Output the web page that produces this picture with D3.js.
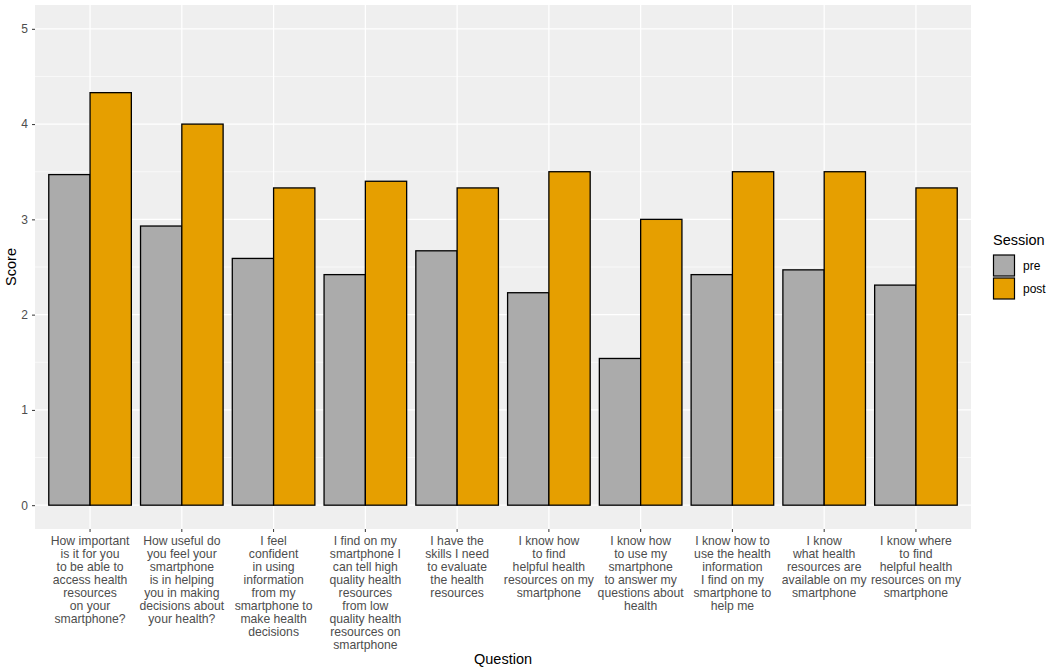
<!DOCTYPE html>
<html><head><meta charset="utf-8">
<script src="https://cdn.jsdelivr.net/npm/d3@7"></script>
<style>body{margin:0;background:#fff;} text{font-family:"Liberation Sans",Arial,sans-serif;}</style>
</head><body><svg id="c" width="1050" height="670"></svg>
<script>
const categories = [
  ["How important","is it for you","to be able to","access health","resources","on your","smartphone?"],
  ["How useful do","you feel your","smartphone","is in helping","you in making","decisions about","your health?"],
  ["I feel","confident","in using","information","from my","smartphone to","make health","decisions"],
  ["I find on my","smartphone I","can tell high","quality health","resources","from low","quality health","resources on","smartphone"],
  ["I have the","skills I need","to evaluate","the health","resources"],
  ["I know how","to find","helpful health","resources on my","smartphone"],
  ["I know how","to use my","smartphone","to answer my","questions about","health"],
  ["I know how to","use the health","information","I find on my","smartphone to","help me"],
  ["I know","what health","resources are","available on my","smartphone"],
  ["I know where","to find","helpful health","resources on my","smartphone"]
];
const sessions = ["pre","post"];
const preValues  = [3.47, 2.93, 2.59, 2.42, 2.67, 2.23, 1.54, 2.42, 2.47, 2.31];
const postValues = [4.33, 4.00, 3.33, 3.40, 3.33, 3.50, 3.00, 3.50, 3.50, 3.33];
const yTicks = [0,1,2,3,4,5];
const colors = {pre:"#ABABAB", post:"#E69F00"};

const svg = d3.select("#c");
const L=35, R=971, T=5, B=529;
const idx = categories.map((d,i)=>i);
const xl = d3.scaleLinear().domain([0.4,10.6]).range([L,R]);
const y = d3.scaleLinear().domain([-0.25,5.25]).range([B,T]);

svg.append("rect").attr("x",L).attr("y",T).attr("width",R-L).attr("height",B-T).attr("fill","#EFEFEF");
const g = svg.append("g");
[0.5,1.5,2.5,3.5,4.5].forEach(v=>{
  g.append("line").attr("x1",L).attr("x2",R).attr("y1",y(v)).attr("y2",y(v)).attr("stroke","#fff").attr("stroke-width",0.6);
});
yTicks.forEach(v=>{
  g.append("line").attr("x1",L).attr("x2",R).attr("y1",y(v)).attr("y2",y(v)).attr("stroke","#fff").attr("stroke-width",1.2);
});
idx.forEach(i=>{
  g.append("line").attr("x1",xl(i+1)).attr("x2",xl(i+1)).attr("y1",T).attr("y2",B).attr("stroke","#fff").attr("stroke-width",1.2);
});

const data = [];
idx.forEach(i=>{
  data.push({i, s:"pre", v:preValues[i]});
  data.push({i, s:"post", v:postValues[i]});
});
const bw = 0.45;
svg.append("g").selectAll("rect").data(data).join("rect")
  .attr("x",d=> d.s==="pre" ? xl(d.i+1-bw) : xl(d.i+1))
  .attr("width", xl(bw)-xl(0))
  .attr("y", d=>y(d.v))
  .attr("height", d=>y(0)-y(d.v))
  .attr("fill", d=>colors[d.s])
  .attr("stroke","#000").attr("stroke-width",1.3);

const ya = svg.append("g").attr("transform",`translate(${L},0)`)
  .call(d3.axisLeft(y).tickValues(yTicks).tickSize(3).tickPadding(4).tickFormat(d3.format("d")));
ya.select(".domain").remove();
ya.selectAll("line").attr("stroke","#333");
ya.selectAll("text").attr("fill","#4D4D4D").style("font-size","12px");

const xa = svg.append("g").attr("transform",`translate(0,${B})`);
idx.forEach(i=>{
  xa.append("line").attr("x1",xl(i+1)).attr("x2",xl(i+1)).attr("y1",0).attr("y2",3).attr("stroke","#333");
  const t = xa.append("text").attr("x",xl(i+1)).attr("y",16).attr("text-anchor","middle")
    .attr("fill","#4D4D4D").style("font-size","12.2px");
  categories[i].forEach((ln,k)=>{
    t.append("tspan").attr("x",xl(i+1)).attr("dy",k===0?0:13).text(ln);
  });
});

svg.append("text").attr("x",(L+R)/2).attr("y",664).attr("text-anchor","middle").style("font-size","14.5px").text("Question");
svg.append("text").attr("transform",`translate(16,${(T+B)/2}) rotate(-90)`).attr("text-anchor","middle").style("font-size","14.5px").text("Score");

const lg = svg.append("g");
lg.append("text").attr("x",993).attr("y",245).style("font-size","14.5px").text("Session");
sessions.forEach((s,k)=>{
  lg.append("rect").attr("x",993.5).attr("y",255+k*23).attr("width",21).attr("height",21)
    .attr("fill",colors[s]).attr("stroke","#000").attr("stroke-width",1.2);
  lg.append("text").attr("x",1023).attr("y",270+k*23).style("font-size","12px").text(s);
});
</script></body></html>
